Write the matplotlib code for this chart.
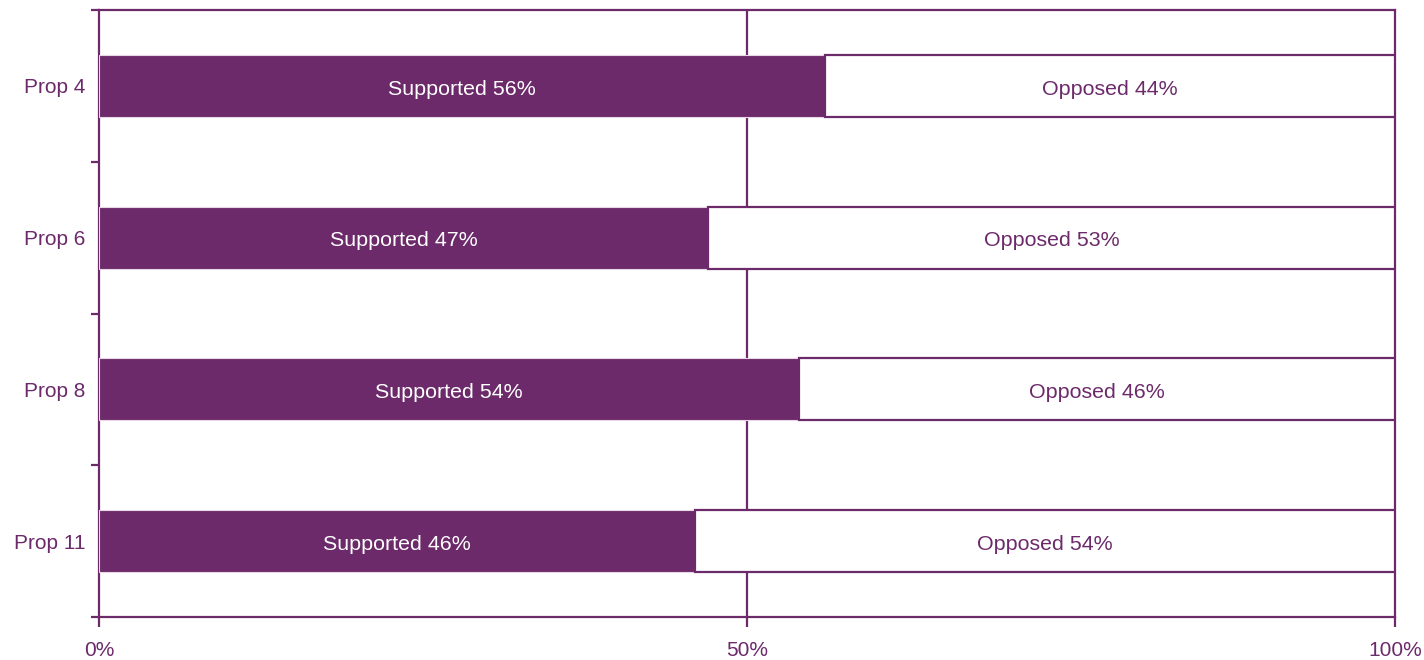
import matplotlib
matplotlib.use("Agg")
import matplotlib.pyplot as plt
import numpy as np

plt.rcParams["font.family"] = ["Liberation Sans", "DejaVu Sans"]

categories = ["Prop 4", "Prop 6", "Prop 8", "Prop 11"]
supported = [56, 47, 54, 46]
opposed = [44, 53, 46, 54]
x_ticks = [0, 50, 100]
x_tick_labels = ["0%", "50%", "100%"]

purple = "#6C2A6A"

fig = plt.figure(figsize=(14.24, 6.6), dpi=100)
ax = fig.add_axes([0.0695, 0.0652, 0.9101, 0.9196])

y = np.arange(len(categories))
bar_h = 0.41

ax.barh(y, supported, height=bar_h, color=purple, edgecolor="#E8D8E6",
        linewidth=0.8, zorder=3)
ax.barh(y, opposed, left=supported, height=bar_h, color="white",
        edgecolor=purple, linewidth=1.6, zorder=3)

# in-bar labels, baseline set a little below the bar centre
for i in range(len(categories)):
    ax.text(supported[i] / 2, y[i] + 0.058, f"Supported {supported[i]}%",
            ha="center", va="baseline", color="white", fontsize=15.4, zorder=4)
    ax.text(supported[i] + opposed[i] / 2, y[i] + 0.058, f"Opposed {opposed[i]}%",
            ha="center", va="baseline", color=purple, fontsize=15.4, zorder=4)

ax.set_xlim(0, 100)
ax.set_ylim(len(categories) - 0.5, -0.5)

ax.set_xticks(x_ticks)
ax.set_xticklabels(x_tick_labels)
ax.set_yticks(y)
ax.set_yticklabels(categories)
ax.set_yticks(np.arange(-0.5, len(categories), 1.0), minor=True)

ax.tick_params(axis="y", which="major", length=0, pad=10, labelsize=15,
               labelcolor=purple)
ax.tick_params(axis="y", which="minor", length=6, width=1.6, color=purple)
ax.tick_params(axis="x", which="major", length=7, width=1.6, color=purple,
               pad=10, labelsize=15, labelcolor=purple)

ax.axvline(50, color=purple, linewidth=1.6, zorder=2)

for side in ["left", "right", "top", "bottom"]:
    ax.spines[side].set_color(purple)
    ax.spines[side].set_linewidth(1.6)

fig.savefig("out.png", dpi=100, facecolor="white")
